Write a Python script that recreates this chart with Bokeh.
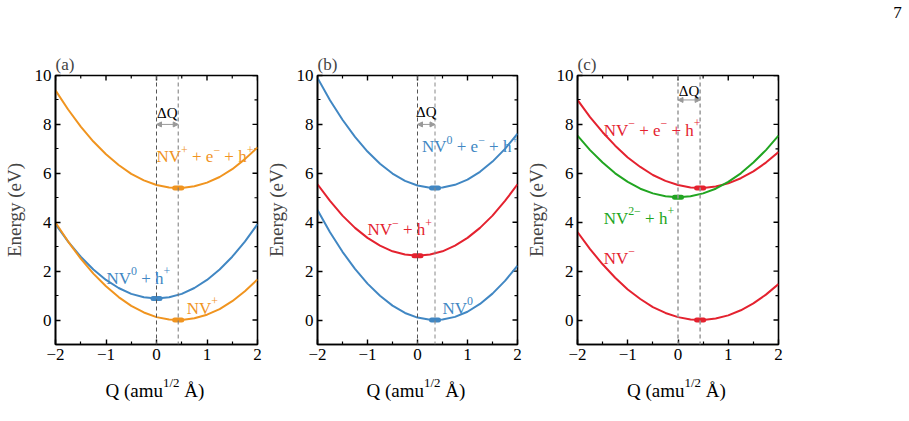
import math
from bokeh.plotting import figure
from bokeh.layouts import row, column
from bokeh.models import FixedTicker, Span, Arrow, NormalHead, Label, Range1d
from bokeh.embed import file_html
from bokeh.resources import INLINE

# ---------------- data ----------------
Q = [-2.0, -1.75, -1.5, -1.25, -1.0, -0.75, -0.5, -0.25, 0.0,
     0.25, 0.5, 0.75, 1.0, 1.25, 1.5, 1.75, 2.0]

# panel (a)
a_nvp_e_h = [9.39, 8.61, 7.91, 7.30, 6.78, 6.34, 5.98, 5.71, 5.52,
             5.42, 5.40, 5.47, 5.62, 5.85, 6.17, 6.58, 7.06]
a_nv0_h = [3.92, 3.21, 2.59, 2.07, 1.64, 1.31, 1.07, 0.93, 0.88,
           0.93, 1.07, 1.31, 1.64, 2.07, 2.59, 3.21, 3.92]
a_nvp = [3.99, 3.21, 2.51, 1.90, 1.38, 0.94, 0.58, 0.31, 0.12,
         0.02, 0.00, 0.07, 0.22, 0.45, 0.77, 1.18, 1.66]
a_min_q = [0.43, 0.0, 0.43]
a_min_e = [5.40, 0.88, 0.0]
a_dq = [0.0, 0.43]

# panel (b)
b_nv0_e_h = [9.90, 8.99, 8.19, 7.49, 6.89, 6.39, 5.99, 5.69, 5.50,
             5.41, 5.42, 5.53, 5.74, 6.06, 6.48, 7.00, 7.62]
b_nvm_h = [5.55, 4.87, 4.27, 3.77, 3.36, 3.04, 2.81, 2.68, 2.63,
           2.68, 2.81, 3.04, 3.36, 3.77, 4.27, 4.87, 5.55]
b_nv0 = [4.50, 3.59, 2.79, 2.09, 1.49, 0.99, 0.59, 0.29, 0.10,
         0.01, 0.02, 0.13, 0.34, 0.66, 1.08, 1.60, 2.22]
b_min_q = [0.35, 0.0, 0.35]
b_min_e = [5.40, 2.63, 0.0]
b_dq = [0.0, 0.35]

# panel (c)
c_nvm_e_h = [9.00, 8.30, 7.68, 7.13, 6.65, 6.26, 5.93, 5.69, 5.52,
             5.42, 5.40, 5.46, 5.59, 5.80, 6.08, 6.44, 6.87]
c_nv2m_h = [7.54, 6.95, 6.44, 6.00, 5.65, 5.37, 5.18, 5.06, 5.02,
            5.06, 5.18, 5.37, 5.65, 6.00, 6.44, 6.95, 7.54]
c_nvm = [3.60, 2.90, 2.28, 1.73, 1.25, 0.86, 0.53, 0.29, 0.12,
         0.02, 0.00, 0.06, 0.19, 0.40, 0.68, 1.04, 1.47]
c_min_q = [0.44, 0.0, 0.44]
c_min_e = [5.40, 5.02, 0.0]
c_dq = [0.0, 0.44]

X_RANGE = (-2, 2)
Y_RANGE = (-1, 10)
X_TICKS = [-2, -1, 0, 1, 2]
X_MINOR = [-1.5, -0.5, 0.5, 1.5]
X_TICK_LABELS = {-2: "\u22122", -1: "\u22121", 0: "0", 1: "1", 2: "2"}
Y_TICKS = [0, 2, 4, 6, 8, 10]
Y_MINOR = [-1, 1, 3, 5, 7, 9]

ORANGE = "#F0941F"
BLUE = "#4187C3"
RED = "#E4222F"
GREEN = "#21A521"
FONT = "Liberation Serif"

# Times / Liberation Serif advance widths (em)
W = {"N": 0.722, "V": 0.722, "e": 0.444, "h": 0.5, "+": 0.564,
     "\u2212": 0.564, " ": 0.25, "0": 0.5, "2": 0.5, "1": 0.5, "/": 0.278,
     "Q": 0.722, "(": 0.333, ")": 0.333, "a": 0.444, "m": 0.778, "u": 0.5,
     "\u00c5": 0.722}


def tw(s, fs):
    return sum(W.get(c, 0.5) for c in s) * fs


def rich(p, x, y, parts, color="black", size=17.0, sup_scale=0.7,
         base_offset=0.0, raise_px=7.0, x_offset=0.0):
    off = x_offset
    for txt, sup in parts:
        fs = size * sup_scale if sup else size
        lead = len(txt) - len(txt.lstrip(" "))
        core = txt.strip(" ")
        trail = len(txt) - lead - len(core)
        off += tw(" " * lead, fs)
        if core:
            p.add_layout(Label(x=x, y=y, x_offset=off,
                               y_offset=base_offset + (raise_px if sup else 0),
                               text=core, text_font=FONT,
                               text_font_size="%.1fpx" % fs,
                               text_align="left", text_baseline="alphabetic",
                               text_color=color))
        off += tw(core, fs) + tw(" " * trail, fs)


def mirror_ticks(p):
    n = len(Y_TICKS)
    p.ray(x=[X_RANGE[1]] * n, y=Y_TICKS, length=5, length_units="screen",
          angle=math.pi, line_color="black", line_width=1.4)
    m = len(Y_MINOR)
    p.ray(x=[X_RANGE[1]] * m, y=Y_MINOR, length=3, length_units="screen",
          angle=math.pi, line_color="black", line_width=1.2)
    k = len(X_TICKS)
    p.ray(x=X_TICKS, y=[Y_RANGE[1]] * k, length=5, length_units="screen",
          angle=-math.pi / 2, line_color="black", line_width=1.4)
    j = len(X_MINOR)
    p.ray(x=X_MINOR, y=[Y_RANGE[1]] * j, length=3, length_units="screen",
          angle=-math.pi / 2, line_color="black", line_width=1.2)


def make_panel(width, left, right, tag, curves, mins, dq, dq_colors,
               dq_width, dq_label_y, dq_arrow_y, texts):
    p = figure(width=width, height=372, x_range=Range1d(*X_RANGE),
               y_range=Range1d(*Y_RANGE), output_backend="svg",
               toolbar_location=None, min_border_left=left,
               min_border_right=right, min_border_top=75,
               min_border_bottom=28)
    p.grid.visible = False
    p.outline_line_color = "black"
    p.outline_line_width = 1.6
    p.background_fill_color = "white"
    p.border_fill_color = "white"

    p.title.text = tag
    p.title.text_font = FONT
    p.title.text_font_size = "17px"
    p.title.text_font_style = "normal"
    p.title.align = "left"
    p.title.offset = 0
    p.title.standoff = 3

    p.xaxis.ticker = FixedTicker(ticks=X_TICKS, minor_ticks=X_MINOR)
    p.xaxis.major_label_overrides = X_TICK_LABELS
    p.yaxis.ticker = FixedTicker(ticks=Y_TICKS, minor_ticks=Y_MINOR)
    for ax in (p.xaxis[0], p.yaxis[0]):
        ax.axis_line_width = 1.6
        ax.major_tick_in = 5
        ax.major_tick_out = 0
        ax.minor_tick_in = 3
        ax.minor_tick_out = 0
        ax.major_tick_line_width = 1.4
        ax.minor_tick_line_width = 1.2
        ax.major_label_text_font = FONT
        ax.major_label_text_font_size = "17px"
        ax.major_label_text_color = "black"
        ax.major_label_standoff = 4
    p.yaxis.axis_label = "Energy (eV)"
    p.yaxis.axis_label_text_font = FONT
    p.yaxis.axis_label_text_font_size = "19px"
    p.yaxis.axis_label_text_font_style = "normal"
    p.yaxis.axis_label_standoff = 7
    mirror_ticks(p)

    for q, col in zip(dq, dq_colors):
        p.add_layout(Span(location=q, dimension="height", line_color=col,
                          line_dash="4 3", line_width=dq_width))

    for ys, col in curves:
        p.line(Q, ys, line_color=col, line_width=2)

    for (mq, me, col) in mins:
        p.segment(x0=[mq - 0.07], y0=[me], x1=[mq + 0.07], y1=[me],
                  line_color=col, line_width=5, line_cap="round")

    head = dict(size=5, fill_color="#999999", line_color="#999999")
    p.add_layout(Arrow(x_start=dq[0], y_start=dq_arrow_y, x_end=dq[1],
                       y_end=dq_arrow_y, line_color="#999999", line_width=1,
                       start=NormalHead(**head), end=NormalHead(**head)))
    p.add_layout(Label(x=(dq[0] + dq[1]) / 2, y=dq_label_y, text="\u0394Q",
                       text_font=FONT, text_font_size="15px",
                       text_align="center", text_baseline="middle",
                       text_color="black"))

    for (tx, ty, parts, col) in texts:
        rich(p, tx, ty, parts, color=col, size=17, base_offset=-6)
    return p


def make_xlabel(width, left, right):
    s = figure(width=width, height=49, x_range=Range1d(*X_RANGE),
               y_range=Range1d(0, 1), output_backend="svg",
               toolbar_location=None, x_axis_location=None,
               y_axis_location=None, min_border_left=left,
               min_border_right=right, min_border_top=0, min_border_bottom=0)
    s.grid.visible = False
    s.outline_line_color = None
    rich(s, 0, 1, [("Q (amu", False), ("1/2", True), (" \u00c5)", False)],
         size=19, sup_scale=0.68, base_offset=-18, raise_px=8, x_offset=-51)
    return s


SUP = True
pa = make_panel(
    262, 55, 5, "(a)",
    [(a_nvp_e_h, ORANGE), (a_nv0_h, BLUE), (a_nvp, ORANGE)],
    [(a_min_q[0], a_min_e[0], ORANGE), (a_min_q[1], a_min_e[1], BLUE),
     (a_min_q[2], a_min_e[2], ORANGE)],
    a_dq, ["#555555", "#777777"], 1, 8.45, 8.0,
    [(0.0, 6.92, [("NV", False), ("+", SUP), (" + e", False), ("\u2212", SUP),
                  (" + h", False), ("+", SUP)], ORANGE),
     (-0.99, 1.95, [("NV", False), ("0", SUP), (" + h", False), ("+", SUP)], BLUE),
     (0.6, 0.72, [("NV", False), ("+", SUP)], ORANGE)])

pb = make_panel(
    260, 54, 5, "(b)",
    [(b_nv0_e_h, BLUE), (b_nvm_h, RED), (b_nv0, BLUE)],
    [(b_min_q[0], b_min_e[0], BLUE), (b_min_q[1], b_min_e[1], RED),
     (b_min_q[2], b_min_e[2], BLUE)],
    b_dq, ["#555555", "#888888"], 1, 8.49, 8.0,
    [(0.09, 7.33, [("NV", False), ("0", SUP), (" + e", False), ("\u2212", SUP),
                   (" + h", False), ("+", SUP)], BLUE),
     (-1.0, 3.93, [("NV", False), ("\u2212", SUP), (" + h", False), ("+", SUP)], RED),
     (0.5, 0.72, [("NV", False), ("0", SUP)], BLUE)])

pc = make_panel(
    261, 55, 5, "(c)",
    [(c_nvm_e_h, RED), (c_nv2m_h, GREEN), (c_nvm, RED)],
    [(c_min_q[0], c_min_e[0], RED), (c_min_q[1], c_min_e[1], GREEN),
     (c_min_q[2], c_min_e[2], RED)],
    c_dq, ["#999999", "#999999"], 1.5, 9.38, 9.0,
    [(-1.48, 8.0, [("NV", False), ("\u2212", SUP), (" + e", False), ("\u2212", SUP),
                   (" + h", False), ("+", SUP)], RED),
     (-1.48, 4.41, [("NV", False), ("2\u2212", SUP), (" + h", False), ("+", SUP)], GREEN),
     (-1.48, 2.77, [("NV", False), ("\u2212", SUP)], RED)])

# page number strip on the right
pg = figure(width=126, height=421, x_range=Range1d(0, 126),
            y_range=Range1d(0, 421), output_backend="svg",
            toolbar_location=None, x_axis_location=None,
            y_axis_location=None, min_border=0)
pg.grid.visible = False
pg.outline_line_color = None
pg.add_layout(Label(x=114, y=409, text="7", text_font=FONT,
                    text_font_size="17px", text_align="center",
                    text_baseline="middle", text_color="black"))

layout = row(column(pa, make_xlabel(262, 55, 5)),
             column(pb, make_xlabel(260, 54, 5)),
             column(pc, make_xlabel(261, 55, 5)),
             pg)
open("out.html", "w").write(file_html(layout, INLINE))
